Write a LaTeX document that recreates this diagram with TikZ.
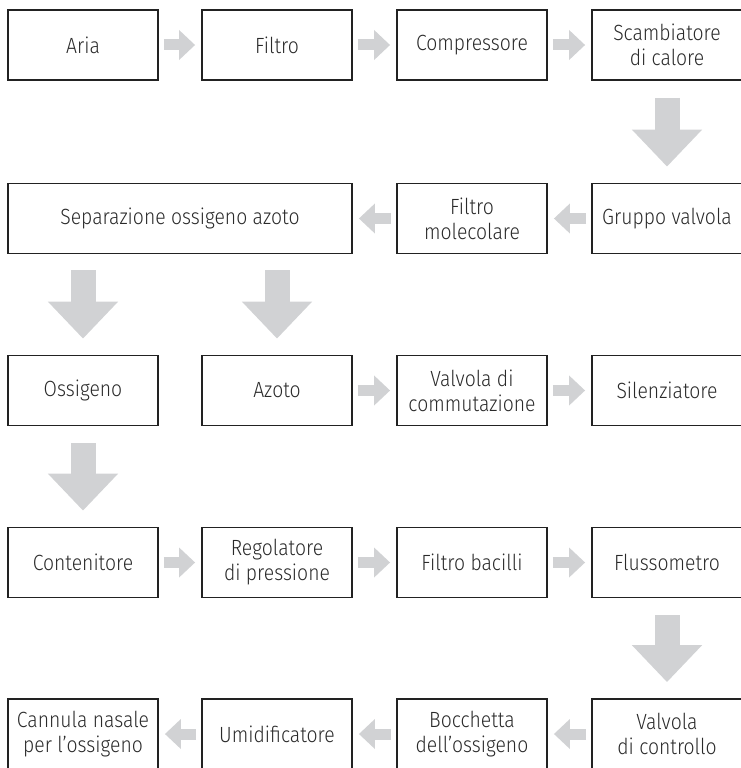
\documentclass[tikz,border=0pt]{standalone}
\usepackage{fontspec}
\setmainfont{Fira Sans}[UprightFont={* Light}, FakeStretch=0.88]
\usetikzlibrary{arrows.meta}
\definecolor{boxline}{HTML}{222222}
\definecolor{boxtext}{HTML}{2A2A2A}
\definecolor{arrowgray}{HTML}{D1D2D4}
\tikzset{
  stepbox/.style={draw=boxline, line width=1.8pt, minimum width=150pt, minimum height=70pt,
    inner sep=0pt, align=center, text=boxtext, font=\fontsize{22}{25}\selectfont},
  widebox/.style={stepbox, minimum width=344pt},
  harrow/.style={draw=arrowgray, line width=11pt,
    -{Triangle[length=16pt, width=29pt, fill=arrowgray]}, shorten <=5pt, shorten >=6pt},
  varrow/.style={draw=arrowgray, line width=25pt,
    -{Triangle[length=37pt, width=68pt, fill=arrowgray]}, shorten <=17pt, shorten >=16pt},
}
\begin{document}
\begin{tikzpicture}[x=1pt, y=-1pt]
\useasboundingbox (0,0) rectangle (740,768);
% row 1
\node[stepbox] (aria) at (83,45) {Aria};
\node[stepbox] (filtro) at (277,45) {Filtro};
\node[stepbox] (compr) at (472,45) {Compressore};
\node[stepbox] (scamb) at (667,45) {Scambiatore\\di calore};
% row 2
\node[widebox] (separ) at (180,218.5) {Separazione ossigeno azoto};
\node[stepbox] (filmol) at (472,218.5) {Filtro\\molecolare};
\node[stepbox] (gruppo) at (667,218.5) {Gruppo valvola};
% row 3
\node[stepbox] (ossig) at (83,390.5) {Ossigeno};
\node[stepbox] (azoto) at (277,390.5) {Azoto};
\node[stepbox] (valcom) at (472,390.5) {Valvola di\\commutazione};
\node[stepbox] (silenz) at (667,390.5) {Silenziatore};
% row 4
\node[stepbox] (conten) at (83,562.5) {Contenitore};
\node[stepbox] (regol) at (277,562.5) {Regolatore\\di pressione};
\node[stepbox] (filbac) at (472,562.5) {Filtro bacilli};
\node[stepbox] (fluss) at (667,562.5) {Flussometro};
% row 5
\node[stepbox] (cannula) at (83,734) {Cannula nasale\\per l’ossigeno};
\node[stepbox] (umid) at (277,734) {Umidificatore};
\node[stepbox] (bocch) at (472,734) {Bocchetta\\dell’ossigeno};
\node[stepbox] (valcon) at (667,734) {Valvola\\di controllo};
% coordinates for the split arrows
\coordinate (sepL) at (83,253);
\coordinate (sepR) at (277,253);
% arrows
\draw[harrow] (aria.east) -- (filtro.west);
\draw[harrow] (filtro.east) -- (compr.west);
\draw[harrow] (compr.east) -- (scamb.west);
\draw[varrow] (scamb.south) -- (gruppo.north);
\draw[harrow] (gruppo.west) -- (filmol.east);
\draw[harrow] (filmol.west) -- (separ.east);
\draw[varrow] (sepL) -- (ossig.north);
\draw[varrow] (sepR) -- (azoto.north);
\draw[harrow] (azoto.east) -- (valcom.west);
\draw[harrow] (valcom.east) -- (silenz.west);
\draw[varrow] (ossig.south) -- (conten.north);
\draw[harrow] (conten.east) -- (regol.west);
\draw[harrow] (regol.east) -- (filbac.west);
\draw[harrow] (filbac.east) -- (fluss.west);
\draw[varrow] (fluss.south) -- (valcon.north);
\draw[harrow] (valcon.west) -- (bocch.east);
\draw[harrow] (bocch.west) -- (umid.east);
\draw[harrow] (umid.west) -- (cannula.east);
\end{tikzpicture}
\end{document}
